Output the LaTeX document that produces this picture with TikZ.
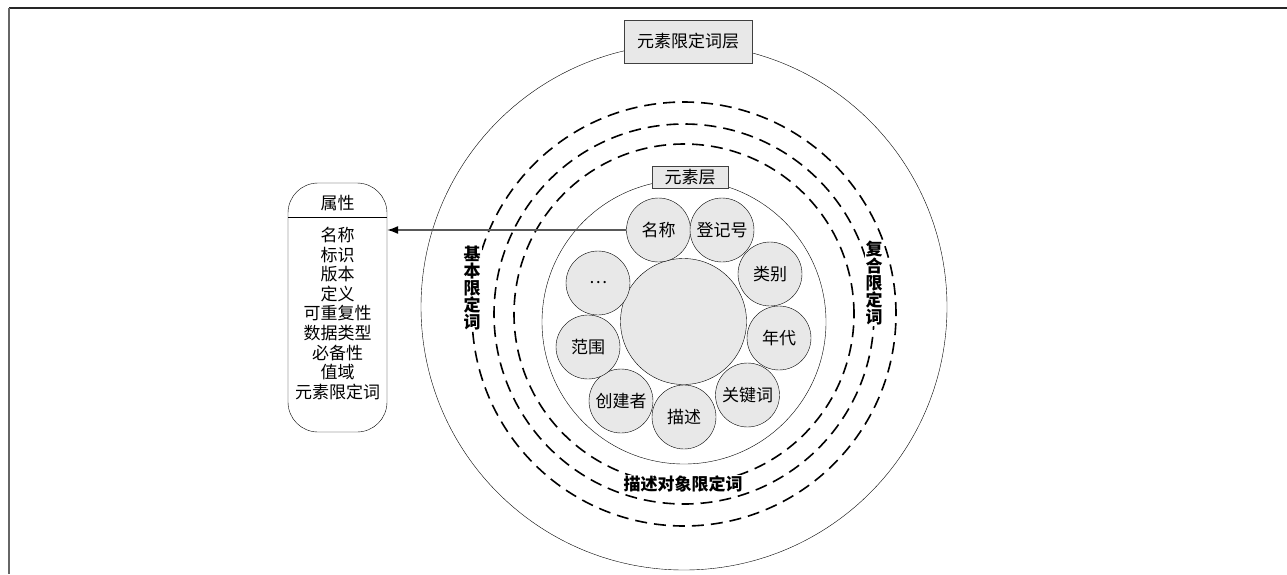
\documentclass[tikz,border=0pt]{standalone}
\usepackage{fontspec}
\newfontfamily\cjk{Noto Sans CJK SC}
\usetikzlibrary{arrows.meta}
\definecolor{layergray}{RGB}{232,232,232}
\tikzset{
	elem/.style={circle, draw=black, fill=layergray, minimum size=64pt, inner sep=0pt, font=\cjk\fontsize{17}{17}\selectfont},
	tag/.style={draw=black!75, fill=layergray, line width=0.9pt, inner sep=0pt, font=\cjk\fontsize{17}{17}\selectfont},
	qual/.style={fill=white, inner sep=1pt, align=center, font=\cjk\bfseries\fontsize{17}{17}\selectfont},
	ring/.style={dash pattern=on 12pt off 7pt, line width=1.6pt},
	link/.style={draw=black!65, line width=1.2pt, -{Latex[length=11pt, width=8pt, black]}},
}

\begin{document}
\begin{tikzpicture}[x=1pt, y=-1pt]
		%%%%% START %%%%%
		\useasboundingbox (0,0) rectangle (1287,574);
		\draw[black!85, line width=1.2pt] (9,8) -- (1287,8);
		\draw[black!60, line width=2pt] (9,8) -- (9,574);
		
		\draw (684,307) circle (263pt);
		\node[tag, minimum width=128pt, minimum height=43pt] (qlayer) at (688,41.5) {元素限定词层};
		
		\draw[ring] (684,314) circle (212pt);
		\draw[ring] (684,314) circle (190pt);
		\draw[ring] (684,314) circle (170pt);
		\node[qual] (basic) at (472,288) {基\\本\\限\\定\\词};
		\node[qual] (compound) at (874,283) {复\\合\\限\\定\\词};
		\node[qual] (object) at (683,484) {描述对象限定词};
		
		\draw (684,322) circle (142pt);
		\node[tag, minimum width=76pt, minimum height=22pt] (elayer) at (690,177) {元素层};
		
		\node[elem, minimum size=126pt] (core) at (683.5,321.5) {};
		\node[elem] (mingcheng) at (658.5,230) {名称};
		\node[elem] (dengjihao) at (722,230) {登记号};
		\node[elem] (leibie) at (770,274) {类别};
		\node[elem] (niandai) at (779,338) {年代};
		\node[elem] (guanjianci) at (747.5,395) {关键词};
		\node[elem] (miaoshu) at (684,417) {描述};
		\node[elem] (chuangjianzhe) at (621,401) {创建者};
		\node[elem] (fanwei) at (588,347) {范围};
		\node[elem] (more) at (598,283) {…};
		
		\node[draw=black, rounded corners=30pt, minimum width=99pt, minimum height=249pt] (attr) at (337.5,307.5) {};
		\node[font=\cjk\fontsize{17}{17}\selectfont] (attrhead) at (337.5,203) {属性};
		\coordinate (headline) at (0,217);
		\draw (attr.west |- headline) -- (attr.east |- headline);
		\node[align=center, inner sep=0pt, font=\cjk\fontsize{17}{19.6}\selectfont] (attrlist) at (337.5,313.5)
			{名称\\标识\\版本\\定义\\可重复性\\数据类型\\必备性\\值域\\元素限定词};
		
		\draw[link] (mingcheng) -- (attr.east |- mingcheng);
		%%%%% END %%%%%
\end{tikzpicture}
\end{document}
